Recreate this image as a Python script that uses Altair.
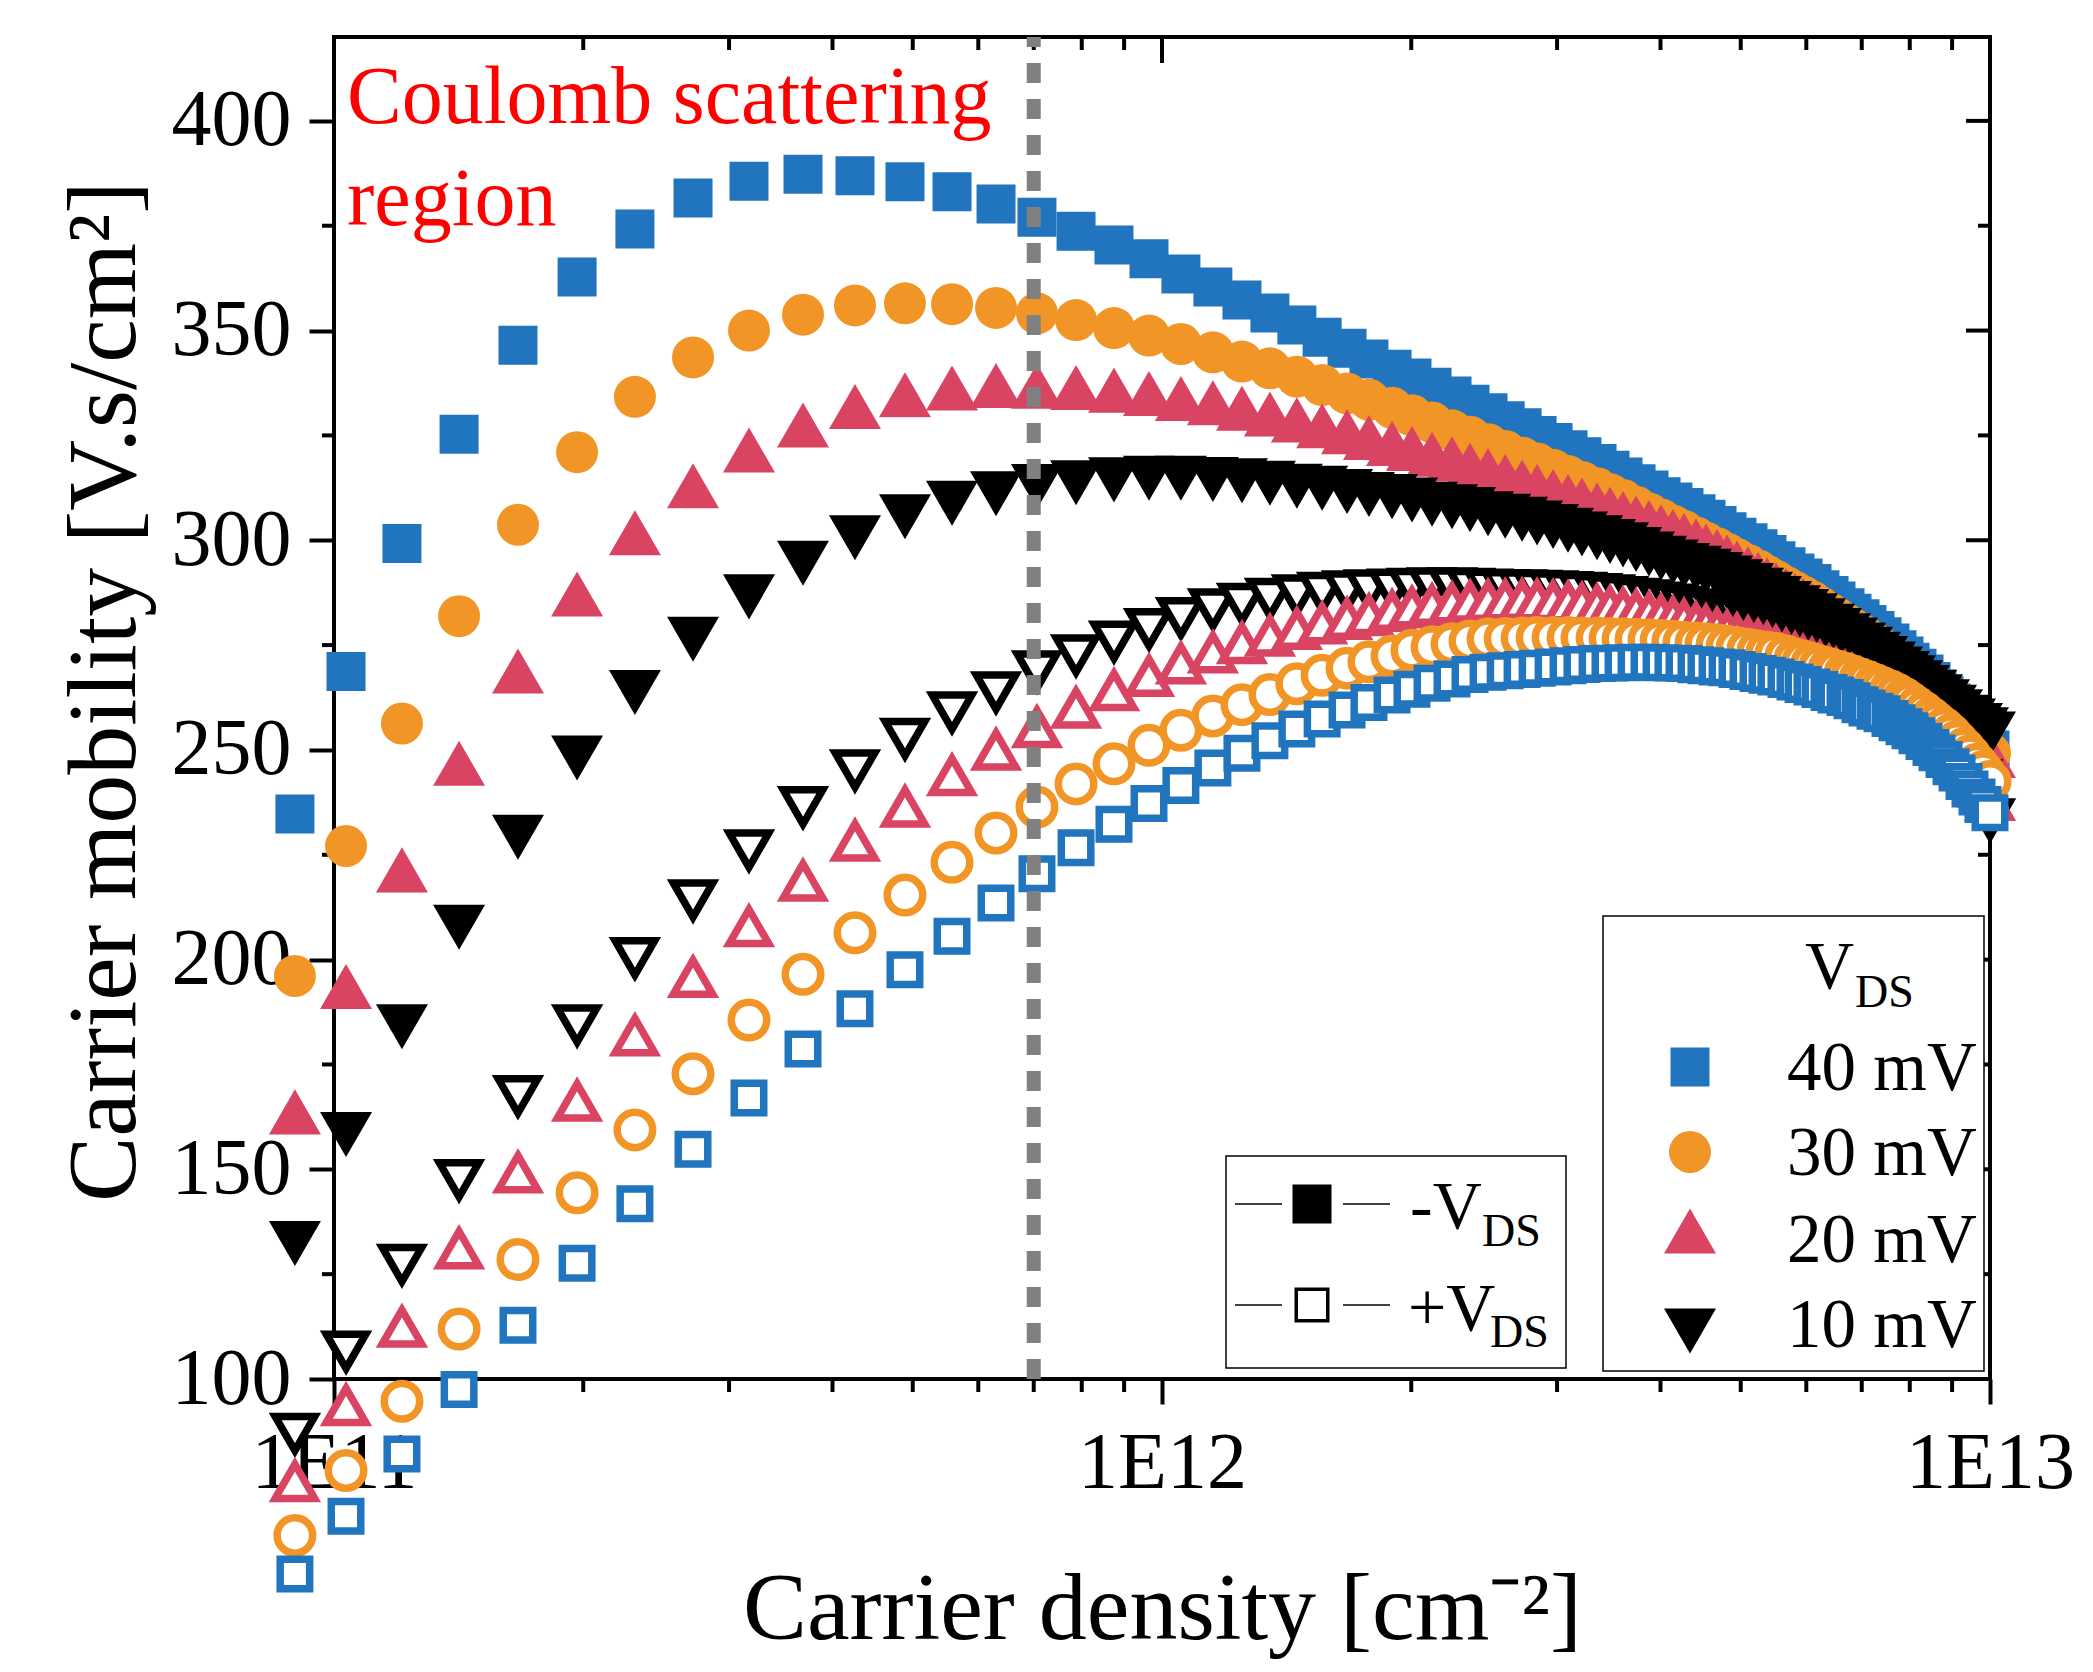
import altair as alt
import pandas as pd

# ---------------- data ----------------
density = [
    8.97e10, 1.034e11, 1.208e11, 1.416e11, 1.668e11, 1.966e11, 2.309e11, 2.714e11, 3.171e11, 3.685e11,
    4.258e11, 4.893e11, 5.577e11, 6.303e11, 7.063e11, 7.874e11, 8.750e11, 9.645e11, 1.054e12, 1.152e12,
    1.249e12, 1.350e12, 1.455e12, 1.561e12, 1.673e12, 1.778e12, 1.896e12, 2.004e12, 2.119e12, 2.240e12,
    2.355e12, 2.476e12, 2.597e12, 2.722e12, 2.838e12, 2.967e12, 3.093e12, 3.215e12, 3.353e12, 3.476e12,
    3.604e12, 3.737e12, 3.874e12, 4.006e12, 4.141e12, 4.270e12, 4.415e12, 4.539e12, 4.681e12, 4.813e12,
    4.948e12, 5.102e12, 5.246e12, 5.379e12, 5.514e12, 5.670e12, 5.814e12, 5.946e12, 6.095e12, 6.232e12,
    6.391e12, 6.516e12, 6.682e12, 6.813e12, 6.966e12, 7.103e12, 7.263e12, 7.406e12, 7.572e12, 7.722e12,
    7.873e12, 8.006e12, 8.163e12, 8.324e12, 8.487e12, 8.630e12, 8.800e12, 8.973e12, 9.124e12, 9.303e12,
    9.459e12, 9.645e12, 9.807e12, 1.000e13,
]

mobility_40mV_neg = [
    234.7, 268.7, 299.2, 325.3, 346.5, 362.8, 374.2, 381.6, 385.6, 387.3,
    386.9, 385.5, 383.1, 380.2, 377.0, 373.7, 370.4, 367.1, 363.5, 360.4,
    357.3, 354.2, 351.3, 348.4, 345.8, 343.2, 340.8, 338.7, 336.5, 334.4,
    332.4, 330.4, 328.5, 326.8, 325.0, 323.3, 321.6, 319.9, 318.3, 316.7,
    315.1, 313.5, 312.0, 310.4, 309.1, 307.8, 306.3, 305.0, 303.5, 302.0,
    300.7, 299.4, 298.0, 296.6, 295.1, 293.7, 292.2, 291.0, 289.7, 288.2,
    286.8, 285.5, 283.9, 282.6, 281.3, 279.9, 278.5, 277.0, 275.5, 273.9,
    272.4, 270.9, 269.5, 268.1, 266.3, 264.6, 262.9, 261.2, 259.4, 257.6,
    255.8, 253.9, 252.0, 250.0,
]
mobility_30mV_neg = [
    196.1, 227.1, 256.3, 281.9, 303.7, 321.0, 334.2, 343.6, 350.0, 353.8,
    356.0, 356.5, 356.3, 355.4, 354.1, 352.5, 350.6, 348.8, 346.8, 344.8,
    342.6, 341.0, 339.0, 337.0, 335.0, 333.5, 331.6, 329.8, 328.1, 326.2,
    324.7, 322.9, 321.3, 319.7, 318.3, 316.8, 315.3, 313.9, 312.4, 311.0,
    309.6, 308.0, 306.4, 305.0, 303.5, 302.2, 300.7, 299.4, 298.1, 296.8,
    295.5, 294.1, 292.8, 291.5, 290.3, 288.9, 287.7, 286.6, 285.4, 284.1,
    282.7, 281.6, 280.1, 279.0, 277.7, 276.6, 275.3, 274.1, 272.6, 271.3,
    269.9, 268.7, 267.4, 266.0, 264.6, 263.4, 262.0, 260.5, 258.8, 256.7,
    255.0, 253.0, 251.2, 249.2,
]
mobility_20mV_neg = [
    163.7, 193.6, 221.4, 246.8, 268.8, 287.2, 301.8, 313.0, 321.5, 327.5,
    331.9, 334.7, 336.3, 336.9, 336.7, 336.4, 335.8, 335.0, 333.8, 332.8,
    331.5, 330.1, 328.7, 327.3, 325.9, 324.5, 323.1, 321.9, 320.5, 319.4,
    317.9, 316.6, 315.2, 313.9, 312.8, 311.6, 310.4, 309.6, 308.4, 307.4,
    306.4, 305.3, 304.2, 303.2, 302.1, 301.1, 299.8, 298.6, 297.3, 296.0,
    294.6, 293.2, 291.9, 290.6, 289.4, 288.0, 286.8, 285.7, 284.5, 283.2,
    281.8, 280.7, 279.2, 278.1, 276.8, 275.7, 274.4, 273.2, 271.7, 270.4,
    269.0, 267.8, 266.5, 265.1, 263.7, 262.5, 261.1, 259.6, 258.0, 256.1,
    254.4, 252.5, 250.7, 248.7,
]
mobility_10mV_neg = [
    132.3, 158.3, 184.0, 207.7, 229.2, 248.1, 263.7, 276.4, 286.5, 294.5,
    300.6, 305.6, 308.8, 311.1, 312.8, 313.7, 314.4, 314.8, 314.8, 314.5,
    314.2, 313.6, 312.9, 312.4, 311.6, 310.9, 310.4, 309.6, 308.6, 308.0,
    307.3, 306.3, 305.7, 305.0, 304.1, 303.3, 302.4, 301.5, 300.6, 299.7,
    298.9, 297.8, 296.7, 295.7, 294.8, 294.0, 293.3, 292.6, 291.8, 291.0,
    290.1, 289.2, 288.1, 287.1, 286.1, 284.9, 283.9, 283.0, 282.0, 280.8,
    279.5, 278.5, 277.2, 276.2, 275.0, 274.0, 272.8, 271.8, 270.5, 269.3,
    268.2, 267.2, 266.0, 264.9, 263.7, 262.7, 261.5, 260.2, 259.1, 257.8,
    256.9, 255.8, 254.8, 253.8,
]
mobility_40mV_pos = [
    53.5, 67.3, 82.1, 97.5, 112.8, 127.6, 141.8, 154.8, 167.0, 178.7,
    188.3, 197.6, 205.6, 213.5, 220.5, 226.7, 232.3, 237.2, 241.5, 245.7,
    249.2, 252.2, 255.0, 257.4, 259.5, 261.3, 263.1, 264.5, 265.9, 266.9,
    268.0, 268.5, 268.9, 269.2, 269.5, 269.8, 270.1, 270.4, 270.6, 270.7,
    270.8, 270.9, 270.9, 270.8, 270.7, 270.6, 270.3, 270.1, 269.8, 269.6,
    269.2, 268.7, 268.2, 267.8, 267.4, 266.8, 266.2, 265.6, 265.0, 264.4,
    263.7, 263.1, 262.5, 261.7, 260.8, 260.0, 259.2, 258.6, 257.5, 256.5,
    255.5, 254.6, 253.4, 252.0, 250.6, 249.3, 247.7, 246.0, 244.5, 242.5,
    240.7, 238.8, 237.0, 235.0,
]
mobility_30mV_pos = [
    62.7, 78.2, 94.7, 111.9, 128.5, 144.4, 159.4, 172.8, 185.6, 196.5,
    206.4, 215.4, 223.2, 230.2, 236.4, 241.9, 246.7, 251.1, 254.7, 258.1,
    260.8, 263.2, 265.8, 267.8, 269.5, 271.0, 272.4, 273.8, 274.6, 275.3,
    276.0, 276.5, 276.6, 276.7, 276.8, 276.8, 276.8, 276.7, 276.7, 276.6,
    276.5, 276.4, 276.3, 276.1, 275.9, 275.7, 275.5, 275.3, 275.1, 274.7,
    274.4, 274.0, 273.6, 273.3, 273.0, 272.4, 271.7, 271.2, 270.6, 270.0,
    269.4, 268.9, 268.3, 267.7, 267.0, 266.4, 265.6, 264.9, 264.1, 263.3,
    262.3, 261.3, 260.1, 258.9, 257.6, 256.4, 255.1, 253.6, 252.0, 250.3,
    248.6, 246.6, 244.8, 242.5,
]
mobility_20mV_pos = [
    75.6, 93.7, 112.4, 131.1, 149.2, 166.3, 181.9, 195.8, 207.9, 218.8,
    228.3, 236.4, 243.9, 250.0, 255.4, 260.0, 264.2, 267.6, 270.6, 273.2,
    275.4, 277.2, 278.8, 280.1, 281.2, 282.1, 283.1, 283.9, 284.5, 284.9,
    285.3, 285.5, 285.6, 285.7, 285.6, 285.4, 285.1, 284.8, 284.4, 284.0,
    283.6, 283.1, 282.6, 282.0, 281.5, 280.9, 280.2, 279.6, 278.9, 278.2,
    277.5, 276.8, 276.1, 275.4, 274.6, 273.8, 273.0, 272.3, 271.6, 270.9,
    270.0, 269.3, 268.5, 267.8, 266.9, 266.1, 265.3, 264.5, 263.5, 262.6,
    261.6, 260.7, 259.6, 258.4, 257.0, 255.7, 254.1, 252.4, 250.7, 248.6,
    246.4, 243.8, 241.2, 238.0,
]
mobility_10mV_pos = [
    87.0, 106.6, 127.3, 147.5, 167.5, 184.4, 200.4, 214.2, 226.1, 236.4,
    245.2, 252.7, 259.0, 263.8, 268.8, 272.6, 275.9, 278.9, 281.5, 283.6,
    284.9, 286.1, 286.9, 287.5, 287.9, 288.1, 288.3, 288.5, 288.6, 288.6,
    288.5, 288.3, 288.2, 288.1, 288.0, 287.9, 287.7, 287.5, 287.2, 286.9,
    286.5, 286.1, 285.7, 285.2, 284.7, 284.2, 283.6, 283.1, 282.5, 281.9,
    281.3, 280.6, 279.9, 279.2, 278.5, 277.7, 276.9, 276.2, 275.4, 274.6,
    273.7, 272.9, 272.0, 271.2, 270.2, 269.3, 268.3, 267.4, 266.3, 265.2,
    264.1, 263.0, 261.7, 260.3, 258.7, 257.2, 255.4, 253.4, 251.3, 248.8,
    246.2, 242.8, 238.6, 233.5,
]

x_tick_values = [1e11, 1e12, 1e13]
x_tick_labels = ["1E11", "1E12", "1E13"]
x_minor_values = [2e11, 3e11, 4e11, 5e11, 6e11, 7e11, 8e11, 9e11,
                  2e12, 3e12, 4e12, 5e12, 6e12, 7e12, 8e12, 9e12]
y_tick_values = [100, 150, 200, 250, 300, 350, 400]
y_minor_values = [125, 175, 225, 275, 325, 375]
coulomb_boundary = [7.0e11]

legend_vds = ["40 mV", "30 mV", "20 mV", "10 mV"]

# ---------------- styling ----------------
W, H = 1656, 1342
FONT = "Liberation Serif"
BLUE, ORANGE, RED, BLACK = "#2175BE", "#F19626", "#D94463", "#000000"
FILLED_SIZE = {"square": 1521, "circle": 1764, "triangle-up": 2704, "triangle-down": 2704}
OPEN_SIZE = {"square": 870, "circle": 1260, "triangle-up": 1560, "triangle-down": 1560}
OPEN_STROKE = 7.5

xscale = alt.Scale(type="log", domain=[1e11, 1e13], nice=False)
yscale = alt.Scale(type="linear", domain=[100, 420], nice=False, zero=False)

label_expr = " : ".join(
    f"abs(datum.value - {v:g}) < {v * 0.01:g} ? '{lab}'" for v, lab in zip(x_tick_values, x_tick_labels)
) + " : ''"

xaxis = alt.Axis(
    orient="bottom", values=x_tick_values, labelExpr=label_expr,
    tickSize=25, tickWidth=4, tickColor="black", domain=False, grid=False,
    labelFont=FONT, labelFontSize=80, labelColor="black", labelPadding=20,
    labelFlush=False, labelOverlap=False,
    title="Carrier density [cm⁻²]", titleFont=FONT, titleFontSize=96,
    titleFontWeight="normal", titleColor="black", titleX=W / 2, titleY=259,
    titleBaseline="alphabetic", titleAlign="center",
)
yaxis = alt.Axis(
    orient="left", values=y_tick_values,
    tickSize=25, tickWidth=4, tickColor="black", domain=False, grid=False,
    labelFont=FONT, labelFontSize=80, labelColor="black", labelPadding=18,
    labelFlush=False, labelOverlap=False,
    title="Carrier mobility [V.s/cm²]", titleFont=FONT, titleFontSize=98,
    titleFontWeight="normal", titleColor="black", titleX=-200, titleY=654,
    titleBaseline="alphabetic", titleAlign="center", titleAngle=270,
)


def X(field):
    return alt.X(f"{field}:Q", scale=xscale, axis=xaxis)


def Y(field):
    return alt.Y(f"{field}:Q", scale=yscale, axis=yaxis)


def series_layer(values, shape, color, open_marker):
    df = pd.DataFrame({"density": density, "mobility": values})
    if open_marker:
        mark = alt.Chart(df).mark_point(shape=shape, filled=True, fill="white", stroke=color,
                                        strokeWidth=OPEN_STROKE, size=OPEN_SIZE[shape], opacity=1)
    else:
        mark = alt.Chart(df).mark_point(shape=shape, filled=True, fill=color, strokeWidth=0,
                                        size=FILLED_SIZE[shape], opacity=1)
    return mark.encode(x=X("density"), y=Y("mobility"))


one = pd.DataFrame({"k": [0]})


def xrule(vals, y0, y1):
    return alt.Chart(pd.DataFrame({"v": vals})).mark_rule(color="black", strokeWidth=4).encode(
        x=X("v"), y=alt.value(y0), y2=alt.value(y1))


def yrule(vals, x0, x1):
    return alt.Chart(pd.DataFrame({"v": vals})).mark_rule(color="black", strokeWidth=4).encode(
        y=Y("v"), x=alt.value(x0), x2=alt.value(x1))


def text(txt, x, y, size, color="black"):
    return alt.Chart(one).mark_text(text=txt, align="left", baseline="alphabetic", font=FONT,
                                    fontSize=size, color=color).encode(x=alt.value(x), y=alt.value(y))


def symbol(shape, x, y, size, fill, stroke=None, sw=0):
    kw = dict(shape=shape, filled=True, fill=fill, size=size, opacity=1, strokeWidth=sw)
    if stroke is not None:
        kw["stroke"] = stroke
    return alt.Chart(one).mark_point(**kw).encode(x=alt.value(x), y=alt.value(y))


def box(x0, x1, y0, y1):
    return alt.Chart(one).mark_rect(fill="white", stroke="black", strokeWidth=1.5).encode(
        x=alt.value(x0), x2=alt.value(x1), y=alt.value(y0), y2=alt.value(y1))


def hline(x0, x1, y):
    return alt.Chart(one).mark_rule(color="black", strokeWidth=1.5).encode(
        x=alt.value(x0), x2=alt.value(x1), y=alt.value(y))


layers = [
    # minor / mirror ticks
    xrule(x_minor_values, H, H + 13),
    xrule(x_tick_values, 0, 26),
    xrule(x_minor_values, 0, 13),
    yrule(y_minor_values, -12, 0),
    yrule(y_tick_values, W - 24, W),
    yrule(y_minor_values, W - 12, W),
    # data
    series_layer(mobility_40mV_neg, "square", BLUE, False),
    series_layer(mobility_30mV_neg, "circle", ORANGE, False),
    series_layer(mobility_20mV_neg, "triangle-up", RED, False),
    series_layer(mobility_10mV_neg, "triangle-down", BLACK, False),
    series_layer(mobility_10mV_pos, "triangle-down", BLACK, True),
    series_layer(mobility_20mV_pos, "triangle-up", RED, True),
    series_layer(mobility_30mV_pos, "circle", ORANGE, True),
    series_layer(mobility_40mV_pos, "square", BLUE, True),
    # Coulomb boundary
    alt.Chart(pd.DataFrame({"n": coulomb_boundary})).mark_rule(
        color="#808080", strokeWidth=14, strokeDash=[20, 16]).encode(
        x=X("n"), y=alt.value(H), y2=alt.value(0)),
    # annotation
    text("Coulomb scattering", 13, 86, 82, "#FF0000"),
    text("region", 13, 188, 82, "#FF0000"),
    # legend: V_DS values
    box(1269, 1650, 879, 1334),
    text("V", 1471, 951, 68),
    text("DS", 1521, 970, 46),
    symbol("square", 1356, 1030, FILLED_SIZE["square"], BLUE),
    symbol("circle", 1356, 1115, FILLED_SIZE["circle"], ORANGE),
    symbol("triangle-up", 1356, 1194, FILLED_SIZE["triangle-up"], RED),
    symbol("triangle-down", 1356, 1294, FILLED_SIZE["triangle-down"], BLACK),
    text(legend_vds[0], 1453, 1053, 69),
    text(legend_vds[1], 1453, 1138, 69),
    text(legend_vds[2], 1453, 1225, 69),
    text(legend_vds[3], 1453, 1310, 69),
    # legend: polarity
    box(892, 1232, 1119, 1331),
    hline(901, 948, 1167), hline(1009, 1056, 1167),
    hline(901, 948, 1268), hline(1009, 1056, 1268),
    symbol("square", 978, 1167, 1521, BLACK),
    symbol("square", 978, 1268, 992, "white", "black", 3.5),
    text("-V", 1076, 1191, 68),
    text("DS", 1148, 1209, 46),
    text("+V", 1074, 1293, 68),
    text("DS", 1156, 1310, 46),
]

chart = alt.layer(*layers).properties(
    width=W, height=H,
    autosize=alt.AutoSizeParams(type="none"),
    padding={"left": 326, "top": 29, "right": 90, "bottom": 280},
    background="white",
).configure_view(stroke="black", strokeWidth=4)

chart.save("out.html", embed_options={"renderer": "svg", "actions": False})
